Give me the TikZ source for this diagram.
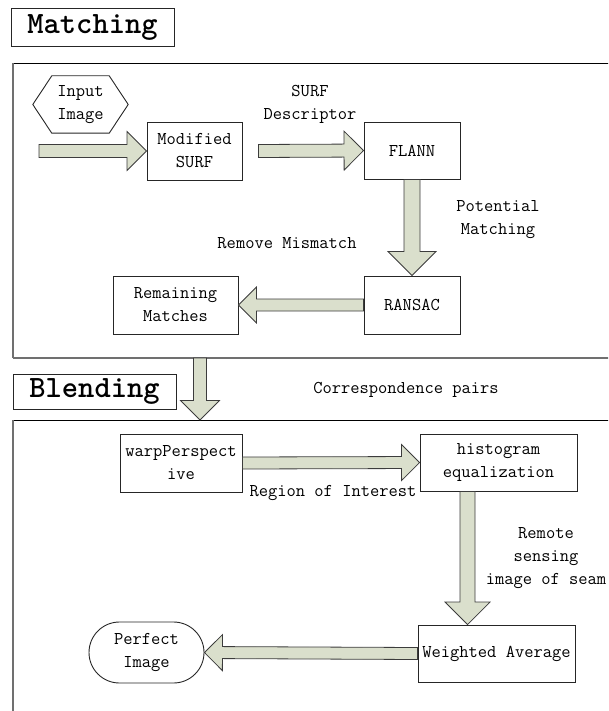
\documentclass[tikz,border=0pt]{standalone}
\usetikzlibrary{calc,shapes.misc}
\definecolor{arrowfill}{RGB}{218,223,204}
\definecolor{arrowline}{RGB}{60,60,60}
\definecolor{framegray}{RGB}{112,112,112}

% block arrow from #2 to #3, #1 = half width of the shaft
\newcommand{\fatarrow}[3][6.5pt]{%
  \coordinate (fa-base) at ($(#3)!3*#1!(#2)$);
  \draw[fatarrow]
    ($(#2)!#1!90:(#3)$) -- ($(fa-base)!#1!-90:(#2)$)
    -- ($(fa-base)!3*#1!-90:(#2)$) -- (#3)
    -- ($(fa-base)!3*#1!90:(#2)$) -- ($(fa-base)!#1!90:(#2)$)
    -- ($(#2)!#1!-90:(#3)$) -- cycle;
}

\begin{document}
\begin{tikzpicture}[x=1pt, y=-1pt,
  every node/.style={font=\fontsize{18}{23}\selectfont\ttfamily, align=center},
  box/.style={draw=black!85, line width=0.9pt, fill=white, inner sep=0pt,
    minimum height=57pt},
  title/.style={draw=black!85, line width=0.9pt, inner sep=0pt,
    font=\fontsize{31}{36}\selectfont\ttfamily\bfseries},
  fatarrow/.style={draw=arrowline, fill=arrowfill, line width=0.8pt,
    line join=miter},
]
\path[use as bounding box, clip] (0,0) rectangle (608,711);

% ── Matching ────────────────────────────────────────────────
\node[title, minimum width=163pt, minimum height=38pt] (mtitle) at (92.5,27) {Matching};
\draw[black, line width=0.9pt] (13,358) -- (13,63) -- (620,63);
\draw[framegray, line width=1.6pt] (13,358) -- (620,358);
\draw[framegray, line width=1.2pt] (13,358) -- (13,63);

\node[minimum width=95pt, minimum height=57pt, inner sep=0pt] (input) at (80.5,104.5) {Input\\Image};
\draw[black!85, line width=0.9pt]
  (input.west) -- ($(input.north west)+(19,0)$) -- ($(input.north east)+(-19,0)$)
  -- (input.east) -- ($(input.south east)+(-19,0)$) -- ($(input.south west)+(19,0)$)
  -- cycle;

\node[box, minimum width=95pt, minimum height=58pt] (msurf) at (194.5,151) {Modified\\SURF};
\node[box, minimum width=96pt] (flann) at (412,150.5) {FLANN};
\node[box, minimum width=96pt, minimum height=58pt] (ransac) at (412,305) {RANSAC};
\node[box, minimum width=125pt, minimum height=58pt] (remain) at (175.5,305) {Remaining\\Matches};

\coordinate (instart) at (39,151);
\coordinate (dstart) at ($(msurf.east)+(16,0)$);
\fatarrow{instart}{msurf.west}
\fatarrow{dstart}{flann.west}
\fatarrow[8pt]{flann.south}{ransac.north}
\fatarrow[6pt]{ransac.west}{remain.east}

\node (surfdesc) at (310,104) {SURF\\Descriptor};
\node (potmatch) at (498,220) {Potential\\Matching};
\node (remmis) at (287,243) {Remove Mismatch};

% ── Blending ────────────────────────────────────────────────
\node[title, minimum width=163pt, minimum height=35pt] (btitle) at (94.5,391.5) {Blending};
\draw[black, line width=0.9pt] (13,720) -- (13,420) -- (620,420);
\draw[framegray, line width=1.2pt] (13,720) -- (13,420);

\coordinate (secA) at (200,358);
\coordinate (secB) at (200,420);
\fatarrow[6.5pt]{secA}{secB}
\node (corr) at (406,390) {Correspondence pairs};

\node[box, minimum width=122pt, minimum height=58pt] (warp) at (181,463) {warpPerspect\\ive};
\node[box, minimum width=157pt] (hist) at (498.5,462.5) {histogram\\equalization};
\node[box, minimum width=157pt] (wavg) at (496.5,653.5) {Weighted Average};
\node[draw=black!85, line width=0.9pt, rounded rectangle,
  minimum width=115pt, minimum height=61pt, inner sep=0pt] (perfect) at (146.5,652.5) {Perfect\\Image};

\coordinate (rsA) at ($(hist.south)+(-31,0)$);
\coordinate (rsB) at (rsA |- wavg.north);
\fatarrow[6pt]{warp.east}{hist.west}
\fatarrow[7.5pt]{rsA}{rsB}
\fatarrow[6pt]{wavg.west}{perfect.east}

\node (roi) at (333,493) {Region of Interest};
\node (seam) at (546,558) {Remote\\sensing\\image of seam};

\end{tikzpicture}
\end{document}
